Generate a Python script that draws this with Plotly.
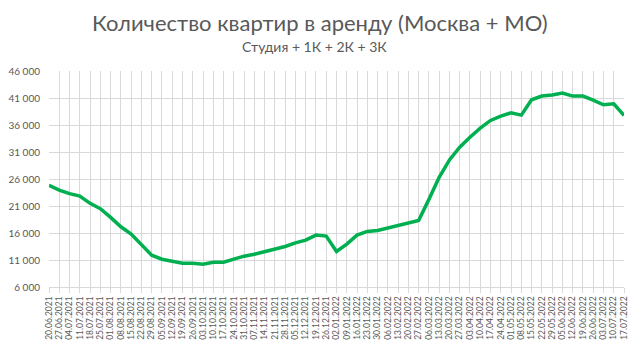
import plotly.graph_objects as go

dates = ["20.06.2021", "27.06.2021", "04.07.2021", "11.07.2021", "18.07.2021", "25.07.2021",
         "01.08.2021", "08.08.2021", "15.08.2021", "22.08.2021", "29.08.2021", "05.09.2021",
         "12.09.2021", "19.09.2021", "26.09.2021", "03.10.2021", "10.10.2021", "17.10.2021",
         "24.10.2021", "31.10.2021", "07.11.2021", "14.11.2021", "21.11.2021", "28.11.2021",
         "05.12.2021", "12.12.2021", "19.12.2021", "26.12.2021", "02.01.2022", "09.01.2022",
         "16.01.2022", "23.01.2022", "30.01.2022", "06.02.2022", "13.02.2022", "20.02.2022",
         "27.02.2022", "06.03.2022", "13.03.2022", "20.03.2022", "27.03.2022", "03.04.2022",
         "10.04.2022", "17.04.2022", "24.04.2022", "01.05.2022", "08.05.2022", "15.05.2022",
         "22.05.2022", "29.05.2022", "05.06.2022", "12.06.2022", "19.06.2022", "26.06.2022",
         "03.07.2022", "10.07.2022", "17.07.2022"]

flats = [24850, 23950, 23280, 22850, 21490, 20500, 18890, 17150, 15790, 13870,
         11890, 11150, 10780, 10410, 10410, 10220, 10590, 10590, 11150, 11710,
         12080, 12570, 12950, 13500, 14180, 14680, 15610, 15420, 12570, 13940,
         15610, 16290, 16470, 16970, 17400, 17900, 18330, 22230, 26320, 29530,
         31890, 33740, 35410, 36840, 37640, 38260, 37830, 40680, 41360, 41540,
         41910, 41360, 41360, 40610, 39750, 39930, 37770]

y_tick_vals = [6000, 11000, 16000, 21000, 26000, 31000, 36000, 41000, 46000]
y_tick_text = ["6 000", "11 000", "16 000", "21 000", "26 000", "31 000", "36 000", "41 000", "46 000"]

title_text = "Количество квартир в аренду (Москва + МО)"
subtitle_text = "Студия + 1К + 2К + 3К"

font_family = "Lato, 'Noto Sans', sans-serif"
gray = "#595959"
grid = "#d9d9d9"

W, H = 638, 343
ML, MR, MT, MB = 49, 14, 71, 56
plot_w = W - ML - MR
plot_h = H - MT - MB


def px_x(x):
    return (x - ML) / plot_w


def px_y(y):
    return (H - y - MB) / plot_h


fig = go.Figure()
fig.add_trace(go.Scatter(
    x=dates, y=flats, mode="lines",
    line=dict(color="#00b050", width=3.5),
    hoverinfo="x+y",
))

fig.update_layout(
    width=W, height=H,
    margin=dict(l=ML, r=MR, t=MT, b=MB, autoexpand=False),
    paper_bgcolor="white", plot_bgcolor="white",
    showlegend=False,
    font=dict(family=font_family, color=gray),
    annotations=[
        dict(text=title_text, x=px_x(320), y=px_y(22), xref="paper", yref="paper",
             showarrow=False, font=dict(size=22, color=gray, family=font_family),
             xanchor="center", yanchor="middle"),
        dict(text=subtitle_text, x=px_x(314), y=px_y(47), xref="paper", yref="paper",
             showarrow=False, font=dict(size=14, color=gray, family=font_family),
             xanchor="center", yanchor="middle"),
    ],
)

fig.update_xaxes(
    type="category", range=[0, len(dates) - 1],
    tickmode="linear", tick0=0, dtick=1,
    showgrid=True, gridcolor=grid, gridwidth=1,
    ticks="outside", ticklen=5, tickcolor=grid,
    tickangle=-90, tickfont=dict(size=8.5, color=gray, family=font_family),
    showline=True, linecolor=grid, linewidth=1,
    zeroline=False, fixedrange=True, automargin=False,
)
fig.update_yaxes(
    range=[6000, 46000], tickvals=y_tick_vals, ticktext=y_tick_text,
    showgrid=True, gridcolor=grid, gridwidth=1,
    tickfont=dict(size=10, color=gray, family=font_family),
    ticklabelstandoff=8,
    zeroline=False, showline=False, ticks="", fixedrange=True, automargin=False,
)

fig.write_html("out.html")
